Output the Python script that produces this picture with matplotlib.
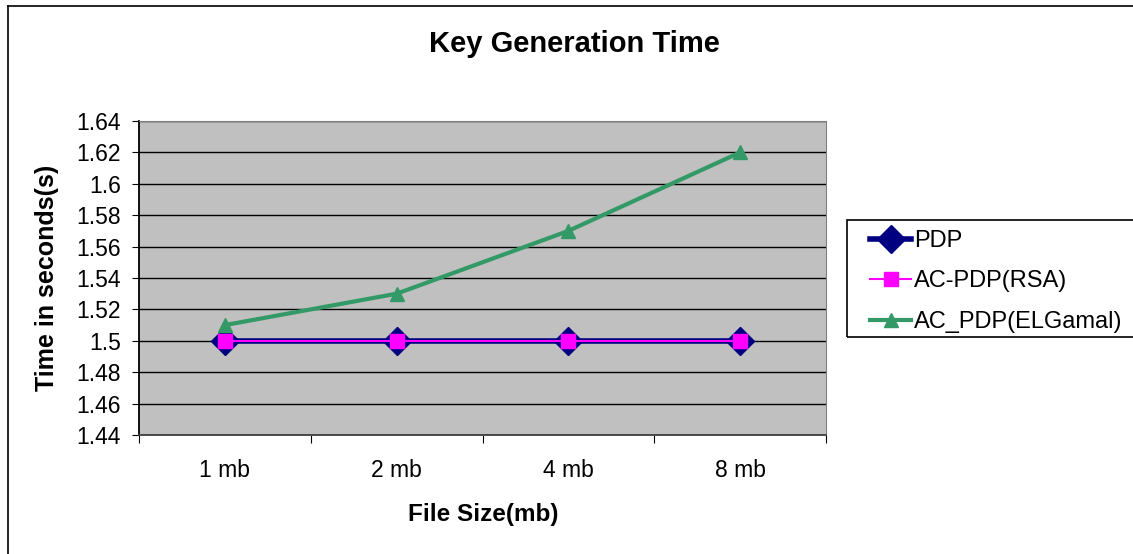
import matplotlib.pyplot as plt
from matplotlib.lines import Line2D
from matplotlib.patches import Rectangle

plt.rcParams['font.family'] = ['Liberation Sans', 'DejaVu Sans']

sizes = ['1 mb', '2 mb', '4 mb', '8 mb']
pdp = [1.5, 1.5, 1.5, 1.5]
rsa = [1.5, 1.5, 1.5, 1.5]
elgamal = [1.51, 1.53, 1.57, 1.62]
yticks = [1.44, 1.46, 1.48, 1.5, 1.52, 1.54, 1.56, 1.58, 1.6, 1.62, 1.64]

W, H = 1133, 554
fig = plt.figure(figsize=(W / 100, H / 100), dpi=100)

# outer chart frame (only top and left visible)
fig.add_artist(Line2D([8 / W, 8 / W], [0, 1 - 6 / H], transform=fig.transFigure,
                      color='black', linewidth=1.2))
fig.add_artist(Line2D([8 / W, 1], [1 - 6 / H, 1 - 6 / H], transform=fig.transFigure,
                      color='black', linewidth=1.2))

ax = fig.add_axes([139 / W, 1 - 435 / H, 687 / W, 314 / H])
ax.set_facecolor('#c0c0c0')

x = range(len(sizes))
ax.plot(x, pdp, color='#000080', linewidth=4, marker='D', markersize=14,
        markerfacecolor='#000080', label='PDP', zorder=3)
ax.plot(x, rsa, color='#ff00ff', linewidth=1.5, marker='s', markersize=9.5,
        markerfacecolor='#ff00ff', markeredgecolor='#ff00ff', label='AC-PDP(RSA)', zorder=4)
ax.plot(x, elgamal, color='#339966', linewidth=3, marker='^', markersize=10,
        label='AC_PDP(ELGamal)', zorder=3)

ax.set_xlim(-0.5, 3.5)
ax.set_ylim(1.44, 1.64)
ax.set_yticks(yticks)
ax.set_yticklabels(['%g' % v for v in yticks], fontsize=16.5)
ax.set_xticks([-0.5, 0.5, 1.5, 2.5, 3.5])
ax.set_xticklabels([])
ax.set_xticks(list(x), minor=True)
ax.set_xticklabels(sizes, minor=True, fontsize=16.5)
ax.tick_params(axis='x', which='minor', length=0, pad=17)
ax.tick_params(axis='x', which='major', length=6, direction='out')
ax.tick_params(axis='y', length=5, direction='out', pad=8)
ax.grid(axis='y', color='black', linewidth=1)
ax.set_axisbelow(True)
for side in ['top', 'right']:
    ax.spines[side].set_color('#808080')
ax.spines['left'].set_linewidth(1.3)
ax.spines['bottom'].set_linewidth(1.3)
ax.spines['bottom'].set_color('#404040')

fig.text(574 / W, 1 - 44 / H, 'Key Generation Time', fontsize=21, fontweight='bold',
         ha='center', va='center')
fig.text(483 / W, 1 - 514 / H, 'File Size(mb)', fontsize=17.5, fontweight='bold',
         ha='center', va='center')
fig.text(47 / W, 1 - 278 / H, 'Time in seconds(s)', fontsize=18, fontweight='bold',
         ha='center', va='center', rotation=90)

# legend frame runs past the right edge of the picture
fig.add_artist(Rectangle((847 / W, 1 - 337 / H), 320 / W, 117 / H, transform=fig.transFigure,
                         fill=False, edgecolor='black', linewidth=1.2))
leg = fig.legend(loc='upper left', bbox_to_anchor=(863 / W, 1 - 223 / H),
                 borderaxespad=0, fontsize=17, frameon=False,
                 handlelength=1.75, handletextpad=0.12,
                 borderpad=0.3, labelspacing=0.78)

fig.savefig('out.png', dpi=100)
